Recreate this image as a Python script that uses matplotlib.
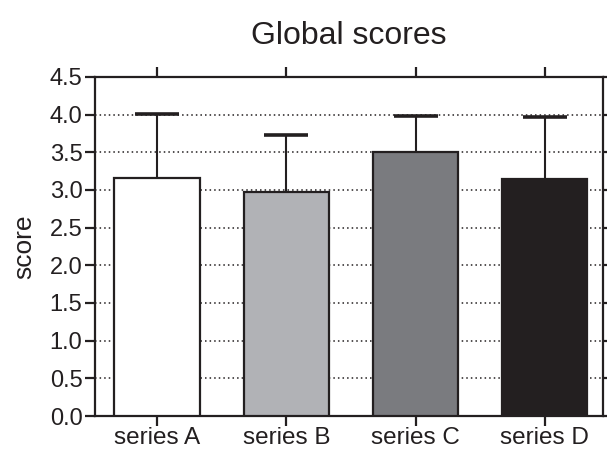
import matplotlib.pyplot as plt
import numpy as np

plt.rcParams['font.family'] = ['Liberation Sans', 'DejaVu Sans']

categories = ['series A', 'series B', 'series C', 'series D']
scores = [3.16, 2.97, 3.50, 3.14]
upper_err = [0.85, 0.76, 0.48, 0.83]
colors = ['#ffffff', '#b1b2b6', '#7a7b7f', '#231f20']
edge = '#231f20'

fig = plt.figure(figsize=(6.07, 4.51), dpi=100)
ax = fig.add_axes([0.1565, 0.0776, 0.8369, 0.7517])

x = np.arange(len(categories))
# lower part of the error bar is hidden behind the bar itself
ax.errorbar(x, scores, yerr=[scores, upper_err], fmt='none',
            ecolor=edge, elinewidth=1.5, capsize=16, capthick=2.6, zorder=2)
ax.bar(x, scores, width=0.66, color=colors, edgecolor=edge, linewidth=1.6, zorder=3)

ax.set_xlim(-0.48, 3.45)
ax.set_ylim(0, 4.5)
ax.set_yticks(np.arange(0, 4.51, 0.5))
ax.set_yticklabels([f'{v:.1f}' for v in np.arange(0, 4.51, 0.5)])
ax.set_xticks(x)
ax.set_xticklabels(categories)

ax.yaxis.grid(True, linestyle=(0, (1, 2.0)), color=edge, linewidth=1.1, zorder=0)
ax.set_axisbelow(True)

for s in ax.spines.values():
    s.set_linewidth(1.6)
    s.set_color(edge)

ax.tick_params(axis='both', labelsize=17, width=1.6, color=edge, labelcolor=edge,
               direction='out', length=7, pad=2)
ax.tick_params(axis='x', top=True, labeltop=False, pad=1, labelsize=17.5)
ax.tick_params(axis='y', right=True, labelright=False)

ax.set_ylabel('score', fontsize=19, labelpad=10, color=edge)
ax.set_title('Global scores', fontsize=23, pad=24, color=edge)

fig.savefig('out.png', dpi=100)
